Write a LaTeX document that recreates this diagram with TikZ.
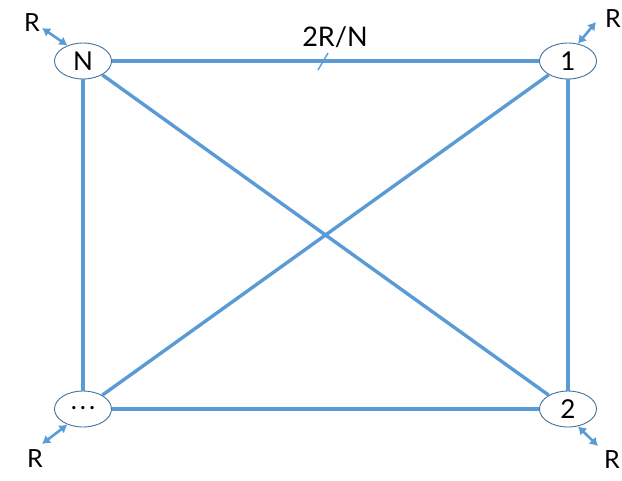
\documentclass[tikz,border=0pt]{standalone}
\usepackage{fontspec}
\setmainfont{Lato}
\usetikzlibrary{arrows.meta,shapes.geometric}
\definecolor{linkblue}{HTML}{5B9BD5}
\definecolor{rimblue}{HTML}{41719C}
\begin{document}
\begin{tikzpicture}[x=1pt,y=-1pt,
  hostnode/.style={ellipse,draw=rimblue,line width=0.9pt,fill=white,minimum width=57pt,minimum height=36pt,inner sep=0pt,font=\fontsize{26}{26}\selectfont},
  link/.style={draw=linkblue,line width=3.4pt},
  ratearrow/.style={draw=linkblue,line width=2.6pt,{Latex[length=8pt,width=10pt]}-{Latex[length=8pt,width=10pt]}},
  lbl/.style={font=\fontsize{25}{25}\selectfont,inner sep=0pt}]
\useasboundingbox (0,0) rectangle (622,480);
\coordinate (cN) at (83,61);
\coordinate (c1) at (568,61);
\coordinate (cD) at (83,409);
\coordinate (c2) at (568,409);
\node[hostnode] (N) at (cN) {N};
\node[hostnode] (one) at (c1) {1};
\node[hostnode] (dots) at (cD) {\raisebox{3pt}{.\kern3pt.\kern3pt.}};
\node[hostnode] (two) at (c2) {2};
\draw[link] (N.east) -- (one.west);
\draw[link] (N.south) -- (dots.north);
\draw[link] (one.south) -- (two.north);
\draw[link] (dots.east) -- (two.west);
\draw[link] (N) -- (two);
\draw[link] (one) -- (dots);
% tick on top link and its label
\coordinate (tickA) at (318,70);
\coordinate (tickB) at (328,53);
\draw[draw=linkblue,line width=1.4pt] (tickA) -- (tickB);
\node[lbl,font=\fontsize{27}{27}\selectfont] (rate) at (335,37) {2R/N};
% R arrows
\node[lbl] (RN) at (32,23) {R};
\node[lbl] (R1) at (613,19) {R};
\node[lbl] (RD) at (35,459) {R};
\node[lbl] (R2) at (612,460) {R};
\coordinate (aN) at (42,28);
\coordinate (a1) at (596,22);
\coordinate (aD) at (42,444);
\coordinate (a2) at (598,446);
\draw[ratearrow] (N.135) -- (aN);
\draw[ratearrow] (one.60) -- (a1);
\draw[ratearrow] (dots.225) -- (aD);
\draw[ratearrow] (two.300) -- (a2);
\end{tikzpicture}
\end{document}
